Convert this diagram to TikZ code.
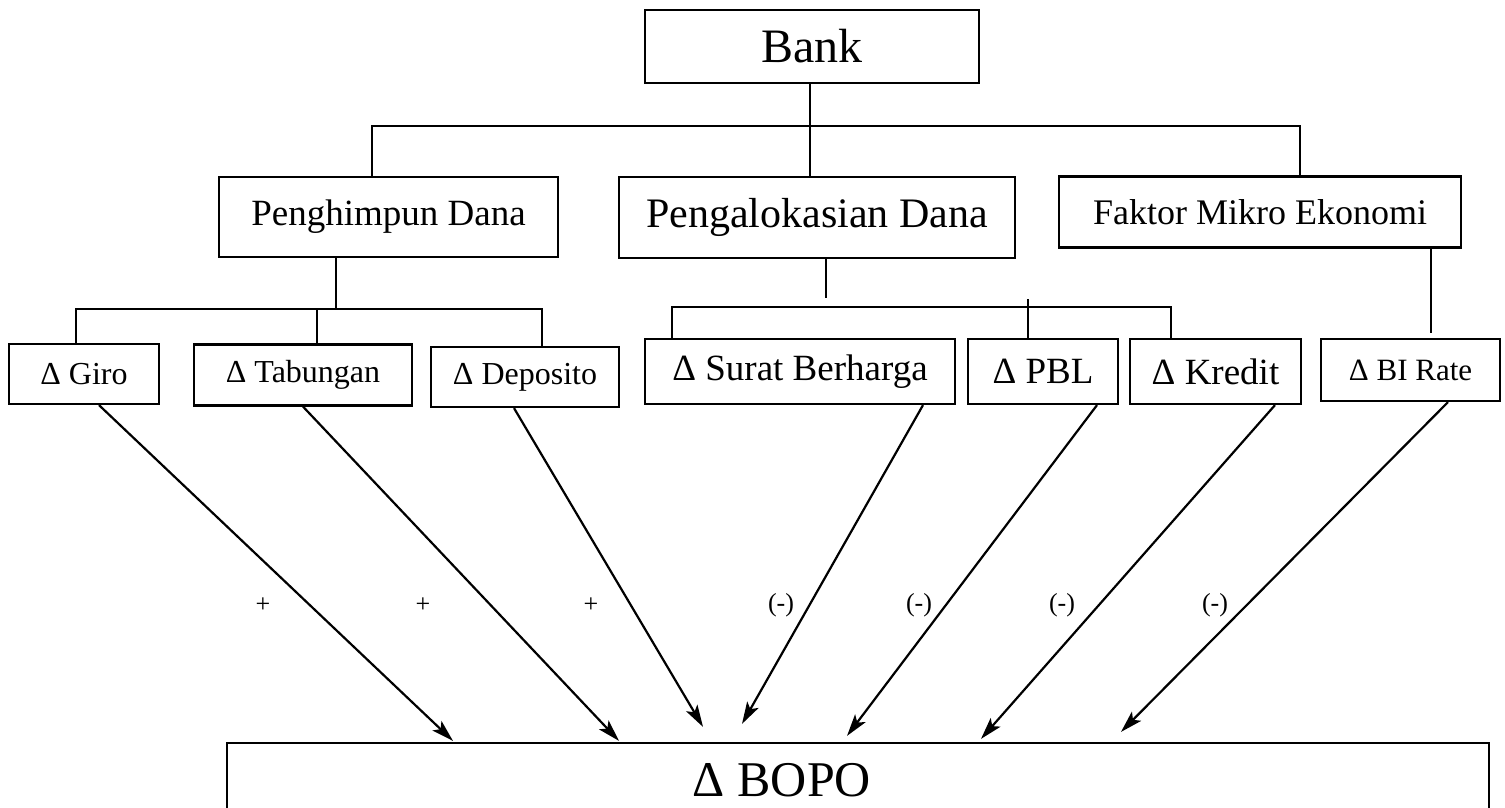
\documentclass[tikz,border=0pt]{standalone}
\usepackage{fontspec}
\setmainfont{Liberation Serif}
\usetikzlibrary{arrows.meta}
\newcommand{\fs}[1]{\fontsize{#1}{#1}\selectfont}
\begin{document}
\begin{tikzpicture}[x=1pt,y=-1pt,
	box/.style={draw, line width=2.2pt, inner sep=0pt},
	link/.style={line width=2pt},
	effect/.style={line width=2.2pt, -{Stealth[length=22pt,width=13pt,inset=5pt]}},
	sign/.style={font=\fs{26}}]
		\useasboundingbox (0,0) rectangle (1505,808);
		\clip (0,0) rectangle (1505,808);
		\node[box, minimum width=334pt, minimum height=73pt, font=\fs{48}] (bank) at (812,46.5) {Bank};
		\node[box, minimum width=339pt, minimum height=80pt, font=\fs{37}] (penghimpun) at (388.5,217) {Penghimpun Dana};
		\node[box, minimum width=396pt, minimum height=81pt, font=\fs{42}] (pengalokasian) at (817,217.5) {Pengalokasian Dana};
		\node[box, minimum width=402pt, minimum height=71pt, font=\fs{36}] (faktor) at (1260,212) {Faktor Mikro Ekonomi};
		\node[box, minimum width=150pt, minimum height=60pt, font=\fs{32}] (giro) at (84,374) {Δ Giro};
		\node[box, minimum width=218pt, minimum height=61pt, font=\fs{32}] (tabungan) at (303,375) {Δ Tabungan};
		\node[box, minimum width=188pt, minimum height=60pt, font=\fs{32}] (deposito) at (525,377) {Δ Deposito};
		\node[box, minimum width=310pt, minimum height=65pt, font=\fs{37}] (surat) at (800,371.5) {Δ Surat Berharga};
		\node[box, minimum width=150pt, minimum height=65pt, font=\fs{37}] (pbl) at (1043,371.5) {Δ PBL};
		\node[box, minimum width=171pt, minimum height=65pt, font=\fs{37}] (kredit) at (1215.5,371.5) {Δ Kredit};
		\node[box, minimum width=179pt, minimum height=62pt, font=\fs{31}] (birate) at (1410.5,370) {Δ BI Rate};
		\node[box, minimum width=1262pt, minimum height=74pt] (bopo) at (858,780) {};
		\node[font=\fs{50}] (bopotext) at (782,780) {Δ BOPO};
		\coordinate (topbus) at (810,126);
		\draw[link] ([xshift=-2pt]bank.south) -- (topbus);
		\draw[link] ([xshift=-17pt]penghimpun.north) |- (topbus) -| ([xshift=40pt]faktor.north);
		\draw[link] (topbus) -- ([xshift=-7pt]pengalokasian.north);
		\coordinate (leftbus) at (336,309);
		\draw[link] ([xshift=-52.5pt]penghimpun.south) -- (leftbus);
		\draw[link] ([xshift=-8pt]giro.north) |- (leftbus) -| ([xshift=17pt]deposito.north);
		\draw[link] ([xshift=14pt]tabungan.north) |- (leftbus);
		\coordinate (midbus) at (826,307);
		\draw[link] ([xshift=9pt]pengalokasian.south) -- ([yshift=9pt]midbus);
		\draw[link] ([xshift=-128pt]surat.north) |- (midbus) -| ([xshift=-44.5pt]kredit.north);
		\draw[link] ([xshift=-15pt]pbl.north) -- ++(0,-39);
		\draw[link] ([xshift=171pt]faktor.south) -- ([xshift=20.5pt,yshift=5pt]birate.north);
		\draw[effect] ([xshift=15pt]giro.south) -- ([xshift=-405pt,yshift=1pt]bopo.north);
		\draw[effect] (tabungan.south) -- ([xshift=-239pt,yshift=1pt]bopo.north);
		\draw[effect] ([xshift=-11pt]deposito.south) -- ([xshift=-155pt,yshift=15pt]bopo.north);
		\draw[effect] ([xshift=123pt]surat.south) -- ([xshift=-116pt,yshift=18pt]bopo.north);
		\draw[effect] ([xshift=54pt]pbl.south) -- ([xshift=-11pt,yshift=6pt]bopo.north);
		\draw[effect] ([xshift=59.5pt]kredit.south) -- ([xshift=123pt,yshift=3pt]bopo.north);
		\draw[effect] ([xshift=37.5pt]birate.south) -- ([xshift=263pt,yshift=10pt]bopo.north);
		\node[sign] (pgiro) at (263,605) {+};
		\node[sign] (ptabungan) at (423,605) {+};
		\node[sign] (pdeposito) at (591,605) {+};
		\node[sign] (msurat) at (781,605) {(-)};
		\node[sign] (mpbl) at (919,605) {(-)};
		\node[sign] (mkredit) at (1062,605) {(-)};
		\node[sign] (mbirate) at (1215,605) {(-)};
	\end{tikzpicture}
\end{document}
